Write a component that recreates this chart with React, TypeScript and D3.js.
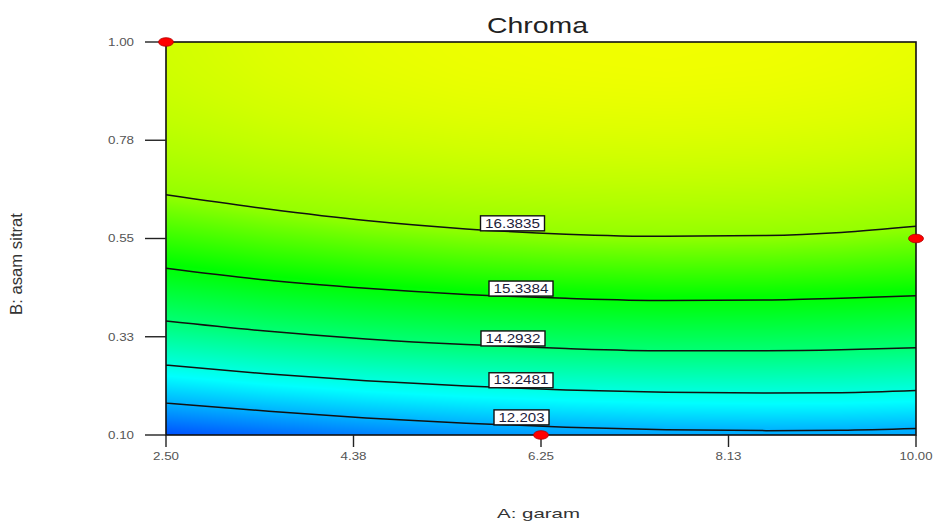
import React, { useMemo } from "react";
import * as d3 from "d3";

// Layout of the response-surface panel
const W = 934;
const H = 523;
const plot = { left: 166, right: 916, top: 42, bottom: 435 };

// A: garam positions at which the contour lines are sampled
const garamValues = [2.5, 3.5, 4.5, 5.5, 6.5, 7.5, 8.5, 9.25, 10];

// Contour levels of Chroma and the B: asam sitrat value of each line
const contourLevels = [12.203, 13.2481, 14.2932, 15.3384, 16.3835];
const levelLabels = ["12.203", "13.2481", "14.2932", "15.3384", "16.3835"];
const contour12203 = [0.173, 0.155, 0.139, 0.127, 0.118, 0.112, 0.11, 0.111, 0.115];
const contour13248 = [0.26, 0.24, 0.224, 0.212, 0.203, 0.198, 0.196, 0.197, 0.202];
const contour14293 = [0.361, 0.338, 0.32, 0.307, 0.298, 0.293, 0.293, 0.295, 0.3];
const contour15338 = [0.482, 0.455, 0.436, 0.422, 0.413, 0.408, 0.409, 0.413, 0.419];
const contour16384 = [0.65, 0.618, 0.591, 0.572, 0.56, 0.555, 0.557, 0.564, 0.578];
const contourLines = [contour12203, contour13248, contour14293, contour15338, contour16384];

// Chroma along the upper (B = 1.00) and lower (B = 0.10) edges
const chromaAtTop = [16.79, 16.88, 16.94, 16.98, 17.0, 17.01, 17.0, 16.98, 16.95];
const chromaAtBottom = [11.27, 11.5, 11.72, 11.9, 12.02, 12.08, 12.11, 12.12, 12.12];

// Where along A each contour label sits
const labelGaram = [6.055, 6.05, 5.97, 6.05, 5.965];

// Design points
const designGaram = [2.5, 6.25, 10];
const designAsam = [1.0, 0.1, 0.55];

// Axis ticks
const xTickValues = [2.5, 4.375, 6.25, 8.125, 10];
const xTickLabels = ["2.50", "4.38", "6.25", "8.13", "10.00"];
const yTickValues = [0.1, 0.325, 0.55, 0.775, 1.0];
const yTickLabels = ["0.10", "0.33", "0.55", "0.78", "1.00"];

// Colour ramp: blue -> cyan -> green -> yellow
const rampValues = [10.5, 12.95, 15.4, 17.1];
const rampColors = ["#0000ff", "#00ffff", "#00ff00", "#ffff00"];

const FONT = "'Liberation Sans', Arial, sans-serif";

const x = d3.scaleLinear().domain([2.5, 10]).range([plot.left, plot.right]);
const y = d3.scaleLinear().domain([0.1, 1.0]).range([plot.bottom, plot.top]);
const color = d3
  .scaleLinear<string>()
  .domain(rampValues)
  .range(rampColors)
  .interpolate(d3.interpolateRgb)
  .clamp(true);

function valueAt(xs: number[], ys: number[], a: number): number {
  const i = Math.max(1, Math.min(xs.length - 1, d3.bisectLeft(xs, a)));
  const t = (a - xs[i - 1]) / (xs[i] - xs[i - 1]);
  return ys[i - 1] + t * (ys[i] - ys[i - 1]);
}

// Paint the shaded surface column by column between the contour lines
function renderSurface(): string {
  const w = plot.right - plot.left;
  const h = plot.bottom - plot.top;
  const canvas = document.createElement("canvas");
  canvas.width = w;
  canvas.height = h;
  const ctx = canvas.getContext("2d");
  if (!ctx) return "";
  const img = ctx.createImageData(w, h);

  const lutN = 2048;
  const lo = rampValues[0];
  const hi = rampValues[rampValues.length - 1];
  const lut: number[][] = [];
  for (let k = 0; k < lutN; k++) {
    const c = d3.rgb(color(lo + ((hi - lo) * k) / (lutN - 1)));
    lut.push([c.r, c.g, c.b]);
  }

  for (let px = 0; px < w; px++) {
    const a = x.invert(plot.left + px + 0.5);
    const knotsY: number[] = [plot.bottom];
    const knotsV: number[] = [valueAt(garamValues, chromaAtBottom, a)];
    contourLines.forEach((line, i) => {
      knotsY.push(y(valueAt(garamValues, line, a)));
      knotsV.push(contourLevels[i]);
    });
    knotsY.push(plot.top);
    knotsV.push(valueAt(garamValues, chromaAtTop, a));
    const last = knotsY.length - 1;

    for (let py = 0; py < h; py++) {
      const yy = plot.top + py + 0.5;
      let j = 1;
      while (j < last && yy < knotsY[j]) j++;
      let s = (knotsY[j - 1] - yy) / (knotsY[j - 1] - knotsY[j]);
      s = Math.max(0, Math.min(1, s));
      if (j === last) s = 1 - (1 - s) * (1 - s);
      const v = knotsV[j - 1] + s * (knotsV[j] - knotsV[j - 1]);
      const k = Math.max(0, Math.min(lutN - 1, Math.round(((v - lo) / (hi - lo)) * (lutN - 1))));
      const o = (py * w + px) * 4;
      img.data[o] = lut[k][0];
      img.data[o + 1] = lut[k][1];
      img.data[o + 2] = lut[k][2];
      img.data[o + 3] = 255;
    }
  }
  ctx.putImageData(img, 0, 0);
  return canvas.toDataURL();
}

export default function App() {
  const surface = useMemo(() => renderSurface(), []);

  const linePath = d3
    .line<number>()
    .x((_, i) => x(garamValues[i]))
    .y((d) => y(d))
    .curve(d3.curveMonotoneX);

  return (
    <svg
      width={W}
      height={H}
      style={{ position: "absolute", left: 0, top: 0, background: "#fff" }}
      fontFamily={FONT}
    >
      <image
        href={surface}
        x={plot.left}
        y={plot.top}
        width={plot.right - plot.left}
        height={plot.bottom - plot.top}
        preserveAspectRatio="none"
      />

      {contourLines.map((line, i) => (
        <path key={i} d={linePath(line) || ""} fill="none" stroke="#111" strokeWidth={1.5} />
      ))}

      <rect
        x={plot.left}
        y={plot.top}
        width={plot.right - plot.left}
        height={plot.bottom - plot.top}
        fill="none"
        stroke="#111"
        strokeWidth={1.6}
      />

      {contourLines.map((line, i) => {
        const a = labelGaram[i];
        const cx = x(a);
        const ly = y(valueAt(garamValues, line, a));
        const label = levelLabels[i];
        const bw = label.length * 9 + 1;
        return (
          <g key={i}>
            <rect
              x={cx - bw / 2}
              y={ly - 15.5}
              width={bw}
              height={15}
              fill="#fff"
              stroke="#111"
              strokeWidth={1.4}
            />
            <text
              x={cx - (bw - 9) / 2}
              y={ly - 3.8}
              fontSize={12}
              fill="#1c1c3a"
              textLength={bw - 9}
              lengthAdjust="spacingAndGlyphs"
            >
              {label}
            </text>
          </g>
        );
      })}

      {/* y axis ticks */}
      {yTickValues.map((v, i) => (
        <g key={i}>
          <line x1={145} x2={plot.left} y1={y(v)} y2={y(v)} stroke="#222" strokeWidth={1.4} />
          <text
            x={108}
            y={y(v) + 3.8}
            fontSize={10.5}
            fill="#555"
            textLength={26}
            lengthAdjust="spacingAndGlyphs"
          >
            {yTickLabels[i]}
          </text>
        </g>
      ))}

      {/* x axis ticks */}
      {xTickValues.map((v, i) => {
        const tw = xTickLabels[i].length === 5 ? 33 : 26;
        return (
          <g key={i}>
            <line x1={x(v)} x2={x(v)} y1={plot.bottom} y2={447} stroke="#222" strokeWidth={1.4} />
            <text
              x={x(v) - tw / 2}
              y={459.5}
              fontSize={10.5}
              fill="#555"
              textLength={tw}
              lengthAdjust="spacingAndGlyphs"
            >
              {xTickLabels[i]}
            </text>
          </g>
        );
      })}

      {/* design points */}
      {designGaram.map((g, i) => (
        <ellipse
          key={i}
          cx={x(g)}
          cy={y(designAsam[i])}
          rx={7.5}
          ry={4.3}
          fill="#ff0000"
          stroke="#b00000"
          strokeWidth={0.8}
        />
      ))}

      <text x={487} y={33} fontSize={22} fill="#222" textLength={101} lengthAdjust="spacingAndGlyphs">
        Chroma
      </text>
      <text x={497} y={517.5} fontSize={13} fill="#333" textLength={83} lengthAdjust="spacingAndGlyphs">
        A: garam
      </text>
      <text
        transform="translate(21.5,315) rotate(-90)"
        fontSize={17}
        fill="#333"
        textLength={102}
        lengthAdjust="spacingAndGlyphs"
      >
        B: asam sitrat
      </text>
    </svg>
  );
}
